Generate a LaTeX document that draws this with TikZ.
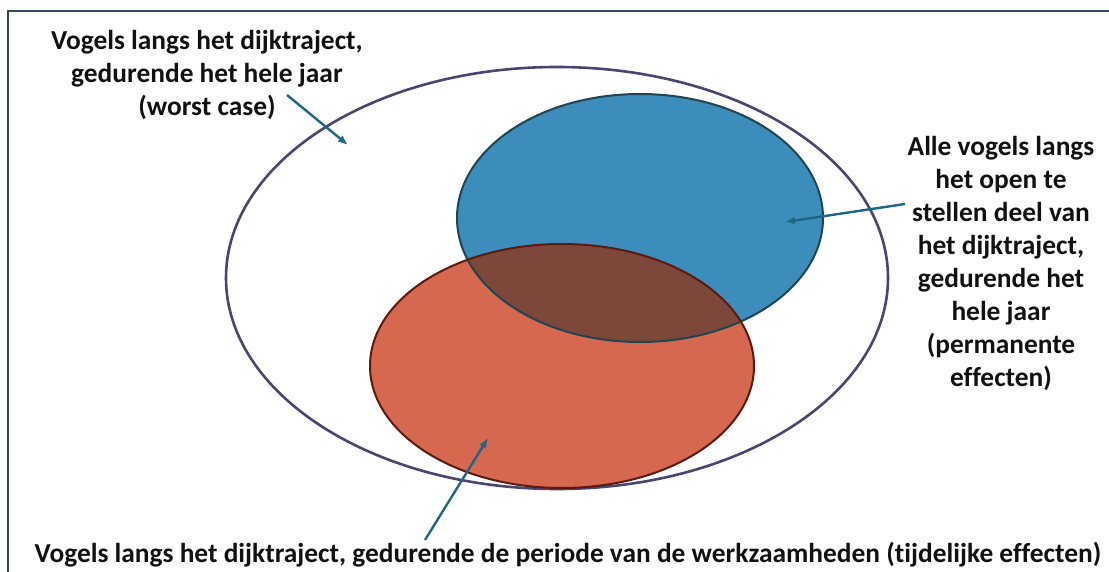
\documentclass[tikz,border=0pt]{standalone}
\usepackage{fontspec}
\setmainfont{Carlito}[Ligatures=NoCommon]
\usepackage{tikz}
\usetikzlibrary{arrows.meta, positioning, calc}

\definecolor{kader}{HTML}{2E4A57}
\definecolor{randpaars}{HTML}{4A4570}
\definecolor{vulblauw}{HTML}{3C8DBC}
\definecolor{randblauw}{HTML}{1F4550}
\definecolor{vulrood}{HTML}{D76850}
\definecolor{randrood}{HTML}{5C1A0E}
\definecolor{overlap}{HTML}{7D483A}
\definecolor{pijlkleur}{HTML}{1F6585}
\definecolor{tekst}{HTML}{111111}

\begin{document}
\begin{tikzpicture}[
        x=0.5pt, y=-0.5pt,
        lbl/.style={align=center, inner sep=0pt, font=\fontsize{13.7}{16.5}\selectfont\bfseries, text=tekst},
        pijl/.style={-{Latex[length=5pt, width=4pt]}, line width=1.2pt, draw=pijlkleur},
    ]
    \useasboundingbox (0,0) rectangle (1109,572);
    \draw[draw=kader, line width=1pt] (1109,11) -- (8,11) -- (8,572);

    % ellipsen
    \draw[draw=randpaars, line width=1.3pt] (557,278) ellipse [x radius=165.5pt, y radius=105.5pt];
    \fill[vulblauw] (640,218) ellipse [x radius=91.5pt, y radius=62pt];
    \fill[vulrood] (562,366) ellipse [x radius=96pt, y radius=61pt];
    \begin{scope}
        \clip (562,366) ellipse [x radius=96pt, y radius=61pt];
        \fill[overlap] (640,218) ellipse [x radius=91.5pt, y radius=62pt];
    \end{scope}
    \draw[draw=randblauw, line width=1pt] (640,218) ellipse [x radius=91.5pt, y radius=62pt];
    \draw[draw=randrood, line width=1pt] (562,366) ellipse [x radius=96pt, y radius=61pt];

    % teksten
    \node[lbl, anchor=north] (jaar) at (207,30) {Vogels langs het dijktraject,\\ gedurende het hele jaar\\ (worst case)};
    \node[lbl, anchor=north] (permanent) at (1001,136) {Alle vogels langs\\ het open te\\ stellen deel van\\ het dijktraject,\\ gedurende het\\ hele jaar\\ (permanente\\ effecten)};
    \node[lbl, anchor=base] (tijdelijk) at (568,562) {Vogels langs het dijktraject, gedurende de periode van de werkzaamheden (tijdelijke effecten)};

    % pijlen
    \coordinate (jaarstart) at (287,95);
    \coordinate (jaarpunt) at (348,145);
    \coordinate (permstart) at (905,204);
    \coordinate (permpunt) at (785,222);
    \coordinate (tijdstart) at (425,540);
    \coordinate (tijdpunt) at (488,438);
    \draw[pijl] (jaarstart) -- (jaarpunt);
    \draw[pijl] (permstart) -- (permpunt);
    \draw[pijl] (tijdstart) -- (tijdpunt);
\end{tikzpicture}
\end{document}
